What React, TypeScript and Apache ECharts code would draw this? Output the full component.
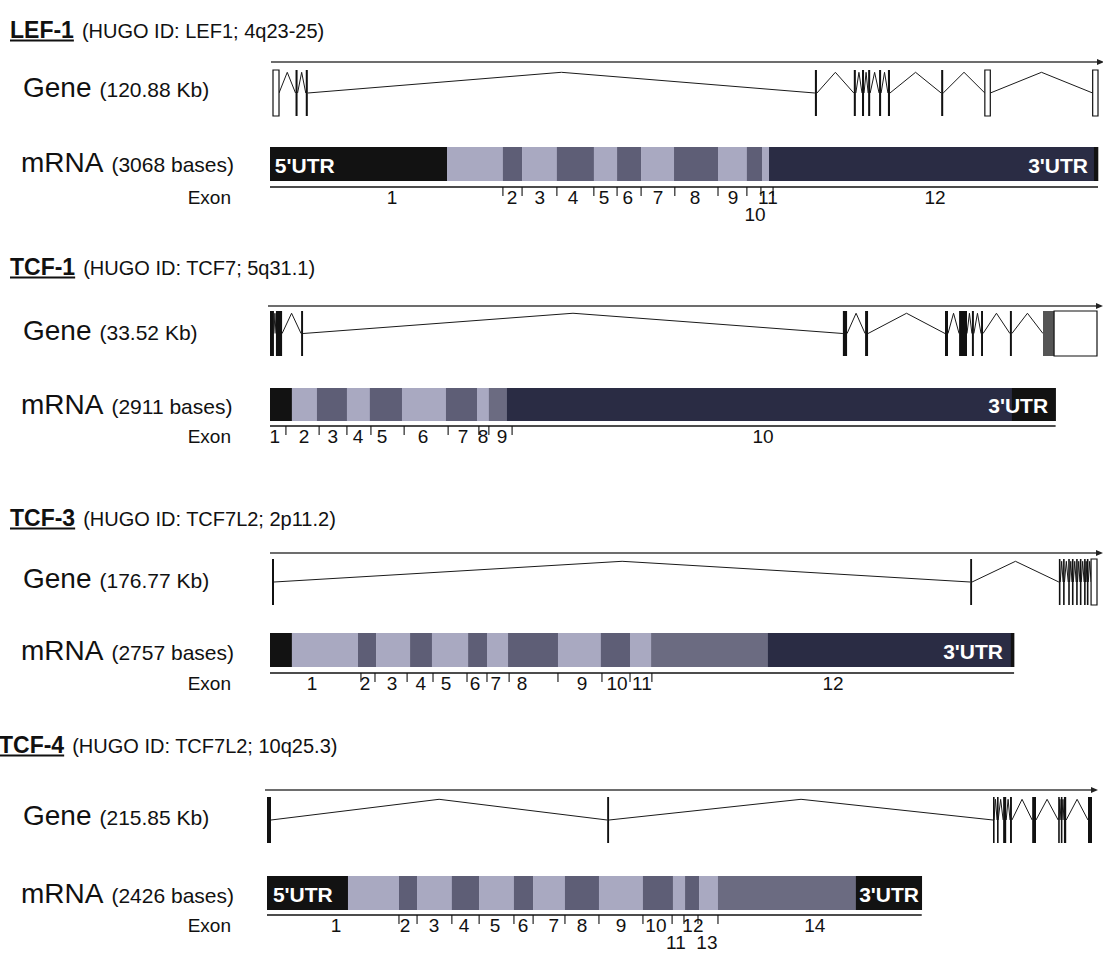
import React, { useEffect, useRef } from "react";
import * as echarts from "echarts";

const FONT = "'Liberation Sans', Arial, Helvetica, sans-serif";

// ---------- data ----------
const geneNames = ["LEF-1", "TCF-1", "TCF-3", "TCF-4"];
const hugoInfo = [
  "(HUGO ID: LEF1; 4q23-25)",
  "(HUGO ID: TCF7; 5q31.1)",
  "(HUGO ID: TCF7L2; 2p11.2)",
  "(HUGO ID: TCF7L2; 10q25.3)",
];
const geneSizeText = ["(120.88 Kb)", "(33.52 Kb)", "(176.77 Kb)", "(215.85 Kb)"];
const mrnaSizeText = ["(3068 bases)", "(2911 bases)", "(2757 bases)", "(2426 bases)"];
const geneSizesKb = [120.88, 33.52, 176.77, 215.85];
const mrnaSizes = [3068, 2911, 2757, 2426];

// genomic exons: [start Kb, end Kb, kind] kind 0 = solid, 1 = open box, 2 = grey
const lef1GeneExons = [
  [0, 0.88, 1], [3.3, 3.6, 0], [4.8, 5.1, 0], [79.4, 79.7, 0], [85.1, 85.4, 0],
  [86.3, 86.6, 0], [87.2, 87.5, 0], [88.8, 89.1, 0], [90.1, 90.4, 0], [97.9, 98.2, 0],
  [104.3, 105.1, 1], [120.1, 120.88, 1],
];
const tcf1GeneExons = [
  [0, 0.16, 0], [0.24, 0.49, 0], [1.26, 1.34, 0], [23.22, 23.39, 0], [24.12, 24.24, 0],
  [27.36, 27.48, 0], [27.93, 28.25, 0], [28.45, 28.53, 0], [28.82, 28.9, 0],
  [29.99, 30.07, 0], [31.33, 31.78, 2], [31.78, 33.52, 1],
];
const tcf3GeneExons = [
  [0, 0.43, 0], [149.6, 150.0, 0], [168.6, 168.9, 0], [169.5, 169.8, 0], [170.6, 170.9, 0],
  [171.4, 171.7, 0], [172.3, 172.6, 0], [173.1, 173.4, 0], [174.0, 174.3, 0],
  [174.6, 174.9, 0], [175.5, 176.77, 1],
];
const tcf4GeneExons = [
  [0, 1.05, 0], [89.0, 89.5, 0], [189.95, 190.2, 0], [191.0, 191.3, 0], [192.6, 193.4, 0],
  [194.4, 194.9, 0], [200.2, 201.2, 0], [207.0, 207.2, 0], [207.7, 208.0, 0],
  [208.5, 209.1, 0], [214.8, 215.85, 0],
];

// mRNA segments: [start base, end base, colour] 0 black, 1 light, 2 dark, 3 medium, 4 navy
const lef1Segments = [
  [0, 656, 0], [656, 863, 1], [863, 934, 2], [934, 1063, 1], [1063, 1200, 2], [1200, 1286, 1],
  [1286, 1375, 2], [1375, 1497, 1], [1497, 1660, 2], [1660, 1767, 1], [1767, 1823, 2],
  [1823, 1849, 1], [1849, 3053, 4], [3053, 3068, 0],
];
const tcf1Segments = [
  [0, 81, 0], [81, 174, 1], [174, 285, 2], [285, 370, 1], [370, 489, 2], [489, 652, 1],
  [652, 767, 2], [767, 811, 1], [811, 878, 3], [878, 2749, 4], [2749, 2911, 0],
];
const tcf3Segments = [
  [0, 81, 0], [81, 326, 1], [326, 393, 2], [393, 519, 1], [519, 600, 2], [600, 734, 1],
  [734, 804, 2], [804, 882, 1], [882, 1067, 2], [1067, 1226, 1], [1226, 1334, 2],
  [1334, 1412, 1], [1412, 1845, 3], [1845, 2745, 4], [2745, 2757, 0],
];
const tcf4Segments = [
  [0, 300, 0], [300, 489, 1], [489, 556, 2], [556, 685, 1], [685, 786, 2], [786, 915, 1],
  [915, 986, 2], [986, 1104, 1], [1104, 1230, 2], [1230, 1393, 1], [1393, 1504, 2],
  [1504, 1549, 1], [1549, 1601, 2], [1601, 1671, 1], [1671, 2182, 3], [2182, 2426, 0],
];

// exon boundary ticks (bases)
const lef1Ticks = [863, 934, 1063, 1200, 1286, 1375, 1500, 1660, 1767, 1819, 1864];
const tcf1Ticks = [59, 182, 285, 374, 497, 660, 774, 811, 897];
const tcf3Ticks = [337, 389, 508, 604, 730, 804, 886, 1067, 1230, 1334, 1415];
const tcf4Ticks = [489, 556, 685, 786, 915, 986, 1104, 1230, 1393, 1501, 1545, 1597, 1671];

// exon labels
const lef1Labels = ["1", "2", "3", "4", "5", "6", "7", "8", "9", "10", "11", "12"];
const lef1LabelPos = [452, 897, 1000, 1123, 1238, 1326, 1438, 1575, 1716, 1797, 1845, 2464];
const lef1LabelRow = [0, 0, 0, 0, 0, 0, 0, 0, 0, 1, 0, 0];
const tcf1Labels = ["1", "2", "3", "4", "5", "6", "7", "8", "9", "10"];
const tcf1LabelPos = [18, 126, 233, 326, 415, 567, 715, 789, 860, 1827];
const tcf1LabelRow = [0, 0, 0, 0, 0, 0, 0, 0, 0, 0];
const tcf3Labels = ["1", "2", "3", "4", "5", "6", "7", "8", "9", "10", "11", "12"];
const tcf3LabelPos = [156, 352, 452, 559, 652, 760, 837, 934, 1156, 1286, 1378, 2086];
const tcf3LabelRow = [0, 0, 0, 0, 0, 0, 0, 0, 0, 0, 0, 0];
const tcf4Labels = ["1", "2", "3", "4", "5", "6", "7", "8", "9", "10", "11", "12", "13", "14"];
const tcf4LabelPos = [256, 511, 619, 730, 845, 949, 1063, 1167, 1312, 1441, 1515, 1578, 1630, 2030];
const tcf4LabelRow = [0, 0, 0, 0, 0, 0, 0, 0, 0, 0, 1, 0, 1, 0];

// UTR captions: [position base, align 0 left / 1 right]
const lef1Utr = [[18, 0], [3031, 1]];
const tcf1Utr = [[2883, 1]];
const tcf3Utr = [[2716, 1]];
const tcf4Utr = [[22, 0], [2416, 1]];
const lef1UtrText = ["5'UTR", "3'UTR"];
const tcf1UtrText = ["3'UTR"];
const tcf3UtrText = ["3'UTR"];
const tcf4UtrText = ["5'UTR", "3'UTR"];

const geneExons = [lef1GeneExons, tcf1GeneExons, tcf3GeneExons, tcf4GeneExons];
const segments = [lef1Segments, tcf1Segments, tcf3Segments, tcf4Segments];
const ticks = [lef1Ticks, tcf1Ticks, tcf3Ticks, tcf4Ticks];
const labels = [lef1Labels, tcf1Labels, tcf3Labels, tcf4Labels];
const labelPos = [lef1LabelPos, tcf1LabelPos, tcf3LabelPos, tcf4LabelPos];
const labelRow = [lef1LabelRow, tcf1LabelRow, tcf3LabelRow, tcf4LabelRow];
const utrPos = [lef1Utr, tcf1Utr, tcf3Utr, tcf4Utr];
const utrText = [lef1UtrText, tcf1UtrText, tcf3UtrText, tcf4UtrText];

// ---------- layout / style ----------
const SEG_COLORS = ["#121212", "#a9a9c1", "#5e5e76", "#6b6b81", "#2a2c44"];
const BPP = 3.7053; // bases per pixel of the mRNA drawings

const LAYOUT = [
  { titleX: 10, titleBase: 38, geneBase: 97, mrnaBase: 172, geneLeft: 273, geneRight: 1098, geneTop: 70, geneH: 46, lineGap: 8, mrnaLeft: 270, mrnaTop: 147, mrnaH: 34, axisGap: 6 },
  { titleX: 10, titleBase: 275, geneBase: 340, mrnaBase: 414, geneLeft: 270, geneRight: 1097, geneTop: 311, geneH: 45, lineGap: 5, mrnaLeft: 270, mrnaTop: 388, mrnaH: 33, axisGap: 5 },
  { titleX: 10, titleBase: 526, geneBase: 588, mrnaBase: 660, geneLeft: 272, geneRight: 1097, geneTop: 559, geneH: 46, lineGap: 6, mrnaLeft: 270, mrnaTop: 633, mrnaH: 34, axisGap: 6 },
  { titleX: -1, titleBase: 753, geneBase: 825, mrnaBase: 903, geneLeft: 267, geneRight: 1092, geneTop: 797, geneH: 46, lineGap: 7, mrnaLeft: 267, mrnaTop: 876, mrnaH: 34, axisGap: 5 },
];
const LABEL_DY = 10;
const ROW_DY = 17;
const TICK_LEN = 9;

let measureCtx: CanvasRenderingContext2D | null = null;
function textWidth(text: string, font: string): number {
  if (!measureCtx) measureCtx = document.createElement("canvas").getContext("2d");
  if (!measureCtx) return text.length * 10;
  measureCtx.font = font;
  return measureCtx.measureText(text).width;
}

function centerY(base: number, fs: number) {
  return base - 0.3465 * fs;
}

function txt(x: number, y: number, text: string, fs: number, extra: any = {}) {
  return {
    type: "text", x, y,
    style: {
      text, fill: "#111", fontSize: fs, fontFamily: FONT,
      verticalAlign: "middle", textVerticalAlign: "middle", ...extra,
    },
  };
}

function buildOption() {
  const grid: any[] = [];
  const xAxis: any[] = [];
  const yAxis: any[] = [];
  const series: any[] = [];
  const graphic: any[] = [];

  for (let i = 0; i < 4; i++) {
    const L = LAYOUT[i];
    const gi = 2 * i;
    const mi = 2 * i + 1;
    const geneLen = geneSizesKb[i];
    const mLen = mrnaSizes[i];

    grid.push({ left: L.geneLeft, top: L.geneTop, width: L.geneRight - L.geneLeft, height: L.geneH });
    grid.push({ left: L.mrnaLeft, top: L.mrnaTop, width: mLen / BPP, height: L.mrnaH });
    xAxis.push({ type: "value", gridIndex: gi, min: 0, max: geneLen, show: false });
    xAxis.push({ type: "value", gridIndex: mi, min: 0, max: mLen, show: false });
    yAxis.push({ type: "value", gridIndex: gi, min: 0, max: 1, show: false });
    yAxis.push({ type: "value", gridIndex: mi, min: 0, max: 1, show: false });

    const exons = geneExons[i];
    const introns: number[][] = [];
    for (let k = 0; k + 1 < exons.length; k++) {
      if (exons[k + 1][0] - exons[k][1] > 0.02) introns.push([exons[k][1], exons[k + 1][0]]);
    }

    // genomic direction arrow
    series.push({
      type: "custom", xAxisIndex: gi, yAxisIndex: gi, silent: true,
      data: [[0, geneLen]],
      renderItem: (_p: any, api: any) => {
        const a = api.coord([api.value(0), 1]);
        const b = api.coord([api.value(1), 1]);
        const y = a[1] - L.lineGap;
        const xe = b[0] + 1;
        return {
          type: "group",
          children: [
            { type: "line", shape: { x1: a[0] - 2, y1: y, x2: xe, y2: y }, style: { stroke: "#3c3c3c", lineWidth: 1.3 } },
            { type: "polygon", shape: { points: [[xe - 2, y - 3], [xe + 5, y], [xe - 2, y + 3]] }, style: { fill: "#222" } },
          ],
        };
      },
    });

    // introns
    series.push({
      type: "custom", xAxisIndex: gi, yAxisIndex: gi, silent: true,
      data: introns,
      renderItem: (_p: any, api: any) => {
        const s = api.value(0);
        const e = api.value(1);
        const p0 = api.coord([s, 0.5]);
        const p1 = api.coord([(s + e) / 2, 0.95]);
        const p2 = api.coord([e, 0.5]);
        return { type: "polyline", shape: { points: [p0, p1, p2] }, style: { stroke: "#1a1a1a", lineWidth: 1, fill: null } };
      },
    });

    // exons
    series.push({
      type: "custom", xAxisIndex: gi, yAxisIndex: gi, silent: true,
      data: exons,
      renderItem: (_p: any, api: any) => {
        const a = api.coord([api.value(0), 1]);
        const b = api.coord([api.value(1), 0]);
        const k = api.value(2);
        const w = Math.max(b[0] - a[0], 1.6);
        const style = k === 1
          ? { fill: "#ffffff", stroke: "#111", lineWidth: 1.2 }
          : { fill: k === 2 ? "#555555" : "#111111" };
        return { type: "rect", shape: { x: a[0], y: a[1], width: w, height: b[1] - a[1] }, style };
      },
    });

    // mRNA segments
    series.push({
      type: "custom", xAxisIndex: mi, yAxisIndex: mi, silent: true,
      data: segments[i],
      renderItem: (_p: any, api: any) => {
        const a = api.coord([api.value(0), 1]);
        const b = api.coord([api.value(1), 0]);
        return {
          type: "rect",
          shape: { x: a[0], y: a[1], width: b[0] - a[0] + 0.3, height: b[1] - a[1] },
          style: { fill: SEG_COLORS[api.value(2)] },
        };
      },
    });

    // UTR captions
    series.push({
      type: "custom", xAxisIndex: mi, yAxisIndex: mi, silent: true,
      data: utrPos[i],
      renderItem: (p: any, api: any) => {
        const pt = api.coord([api.value(0), 0.5]);
        const right = api.value(1) === 1;
        return {
          type: "text", x: pt[0], y: pt[1] + 1,
          style: {
            text: utrText[i][p.dataIndex], fill: "#ffffff", fontSize: 21, fontWeight: "bold", fontFamily: FONT,
            align: right ? "right" : "left", verticalAlign: "middle",
            textAlign: right ? "right" : "left", textVerticalAlign: "middle",
          },
        };
      },
    });

    // exon axis line
    series.push({
      type: "custom", xAxisIndex: mi, yAxisIndex: mi, silent: true,
      data: [[0, mLen]],
      renderItem: (_p: any, api: any) => {
        const a = api.coord([api.value(0), 0]);
        const b = api.coord([api.value(1), 0]);
        const y = a[1] + L.axisGap;
        return { type: "line", shape: { x1: a[0], y1: y, x2: b[0], y2: y }, style: { stroke: "#111", lineWidth: 1.5 } };
      },
    });

    // exon boundary ticks
    series.push({
      type: "custom", xAxisIndex: mi, yAxisIndex: mi, silent: true,
      data: ticks[i].map((t) => [t]),
      renderItem: (_p: any, api: any) => {
        const a = api.coord([api.value(0), 0]);
        const y = a[1] + L.axisGap;
        return { type: "line", shape: { x1: a[0], y1: y, x2: a[0], y2: y + TICK_LEN }, style: { stroke: "#111", lineWidth: 1.1 } };
      },
    });

    // exon numbers
    series.push({
      type: "custom", xAxisIndex: mi, yAxisIndex: mi, silent: true,
      data: labelPos[i].map((v, k) => [v, labelRow[i][k]]),
      renderItem: (p: any, api: any) => {
        const a = api.coord([api.value(0), 0]);
        const y = a[1] + L.axisGap + LABEL_DY + api.value(1) * ROW_DY;
        return {
          type: "text", x: a[0], y,
          style: {
            text: labels[i][p.dataIndex], fill: "#111", fontSize: 19, fontFamily: FONT,
            align: "center", verticalAlign: "middle", textAlign: "center", textVerticalAlign: "middle",
          },
        };
      },
    });

    // ---- texts (graphic) ----
    const nameFs = 23;
    const infoFs = 20;
    const nameW = textWidth(geneNames[i], `bold ${nameFs}px ${FONT}`);
    graphic.push(txt(L.titleX, centerY(L.titleBase, nameFs), geneNames[i], nameFs, { fontWeight: "bold" }));
    graphic.push({
      type: "line",
      shape: { x1: L.titleX, y1: L.titleBase + 2.5, x2: L.titleX + nameW, y2: L.titleBase + 2.5 },
      style: { stroke: "#111", lineWidth: 2 },
    });
    graphic.push(txt(L.titleX + nameW + 8, centerY(L.titleBase, infoFs), hugoInfo[i], infoFs));

    const bigFs = 28;
    const smallFs = 21;
    const geneW = textWidth("Gene", `${bigFs}px ${FONT}`);
    const mrnaW = textWidth("mRNA", `${bigFs}px ${FONT}`);
    graphic.push(txt(23, centerY(L.geneBase, bigFs), "Gene", bigFs));
    graphic.push(txt(23 + geneW + 8, centerY(L.geneBase, smallFs), geneSizeText[i], smallFs));
    graphic.push(txt(21, centerY(L.mrnaBase, bigFs), "mRNA", bigFs));
    graphic.push(txt(21 + mrnaW + 8, centerY(L.mrnaBase, smallFs), mrnaSizeText[i], smallFs));
    graphic.push(txt(231, L.mrnaTop + L.mrnaH + L.axisGap + LABEL_DY, "Exon", 19, { align: "right", textAlign: "right" }));
  }

  return {
    animation: false,
    backgroundColor: "#ffffff",
    grid,
    xAxis,
    yAxis,
    series,
    graphic,
  };
}

export default function App() {
  const ref = useRef<HTMLDivElement>(null);
  useEffect(() => {
    if (!ref.current) return;
    const chart = echarts.init(ref.current, null, { renderer: "svg" });
    chart.setOption(buildOption());
    return () => chart.dispose();
  }, []);
  return (
    <div
      ref={ref}
      style={{ position: "absolute", left: 0, top: 0, width: 1103, height: 955, background: "#fff" }}
    />
  );
}
